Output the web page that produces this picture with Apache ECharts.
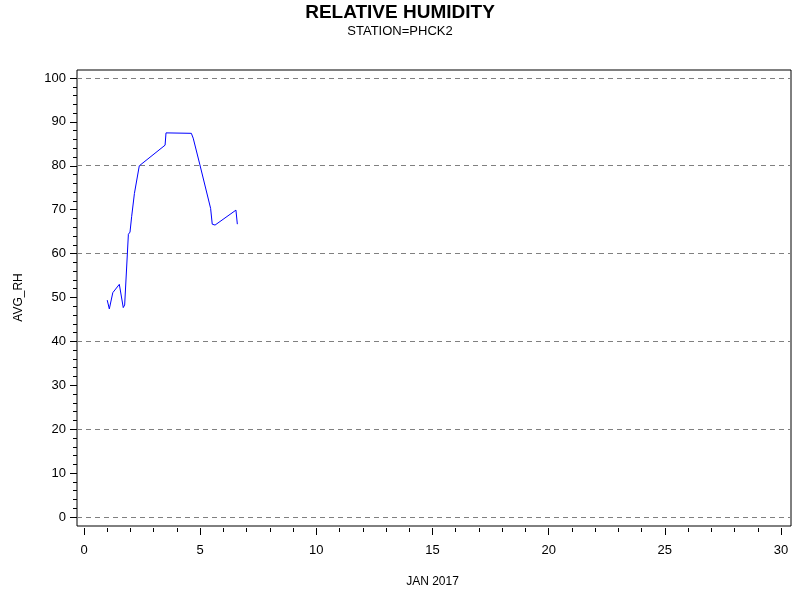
<!DOCTYPE html>
<html>
<head>
<meta charset="utf-8">
<script src="https://cdn.jsdelivr.net/npm/echarts@6/dist/echarts.min.js"></script>
<style>
    html, body {margin: 0; padding: 0; background: #fff;}
    #chart {width: 800px; height: 600px;}
</style>
</head>
<body>
<div id="chart"></div>
<script>
// day of January 2017 (fractional) and average relative humidity
const days = [1.00, 1.09, 1.16, 1.24, 1.52, 1.69, 1.75, 1.91, 1.98, 2.05, 2.17, 2.38,
    3.49, 3.53, 3.60, 4.62, 4.70, 4.99, 5.45, 5.52, 5.60, 5.64, 6.54, 6.60];
const avgRh = [49.4, 47.4, 47.7, 51.1, 53.0, 47.7, 48.3, 64.4, 64.9, 68.4, 73.7, 80.0,
    84.7, 87.5, 87.4, 87.4, 86.3, 80.2, 70.3, 66.7, 66.3, 66.5, 69.9, 66.7];

let points = days.map((d, i) => [d, avgRh[i]]);

let font = 'Liberation Sans, Arial, sans-serif';
let hidden = {show: false};
let tickStyle = {lineStyle: {color: '#000'}};
let myChart = echarts.init(document.getElementById('chart'));
let option = {
    backgroundColor: '#fff',
    animation: false,
    title: {
        text: 'RELATIVE HUMIDITY',
        subtext: 'STATION=PHCK2',
        left: 'center',
        top: -2,
        itemGap: 3,
        textStyle: {fontFamily: font, fontSize: 19, fontWeight: 'bold', color: '#000'},
        subtextStyle: {fontFamily: font, fontSize: 13, color: '#000'}
    },
    grid: [
        // outer frame
        {left: 77, right: 9, top: 70, bottom: 74, show: true, borderColor: '#000', borderWidth: 1},
        // data area
        {left: 84, right: 19, top: 78, bottom: 83},
        // y ticks, sitting on the frame's left edge
        {left: 77, right: 19, top: 78, bottom: 83},
        // x ticks, just below the frame
        {left: 84, right: 19, top: 78, bottom: 72}
    ],
    xAxis: [
        {gridIndex: 0, type: 'value', min: -0.3, max: 30.56, show: false},
        {gridIndex: 1, type: 'value', min: 0, max: 30, show: false},
        {gridIndex: 2, type: 'value', min: 0, max: 30, show: false},
        {
            gridIndex: 3,
            type: 'value',
            min: 0,
            max: 30,
            interval: 5,
            name: 'JAN 2017',
            nameLocation: 'middle',
            nameGap: 48,
            nameTextStyle: {fontFamily: font, fontSize: 12, color: '#000'},
            axisLine: hidden,
            axisTick: Object.assign({show: true, length: 7}, tickStyle),
            minorTick: Object.assign({show: true, splitNumber: 5, length: 4}, tickStyle),
            axisLabel: {fontFamily: font, fontSize: 13, color: '#000', margin: 16},
            splitLine: hidden
        }
    ],
    yAxis: [
        {
            gridIndex: 0,
            type: 'value',
            min: -2.05,
            max: 101.8,
            splitNumber: 5,
            axisLine: hidden,
            axisTick: hidden,
            axisLabel: hidden,
            splitLine: {
                show: true,
                showMinLine: false,
                showMaxLine: false,
                lineStyle: {color: '#808080', type: [5, 4], width: 1}
            }
        },
        {gridIndex: 1, type: 'value', min: 0, max: 100, show: false},
        {
            gridIndex: 2,
            type: 'value',
            min: 0,
            max: 100,
            interval: 10,
            name: 'AVG_RH',
            nameLocation: 'middle',
            nameGap: 52,
            nameTextStyle: {fontFamily: font, fontSize: 12, color: '#000'},
            axisLine: hidden,
            axisTick: Object.assign({show: true, length: 7}, tickStyle),
            minorTick: Object.assign({show: true, splitNumber: 5, length: 4}, tickStyle),
            axisLabel: {fontFamily: font, fontSize: 13, color: '#000', margin: 11},
            splitLine: hidden
        },
        {gridIndex: 3, type: 'value', min: 0, max: 100, show: false}
    ],
    series: [
        {
            name: 'AVG_RH',
            type: 'line',
            xAxisIndex: 1,
            yAxisIndex: 1,
            data: points,
            showSymbol: false,
            symbol: 'none',
            lineStyle: {color: '#0000ff', width: 1}
        }
    ]
};
myChart.setOption(option);
</script>
</body>
</html>
